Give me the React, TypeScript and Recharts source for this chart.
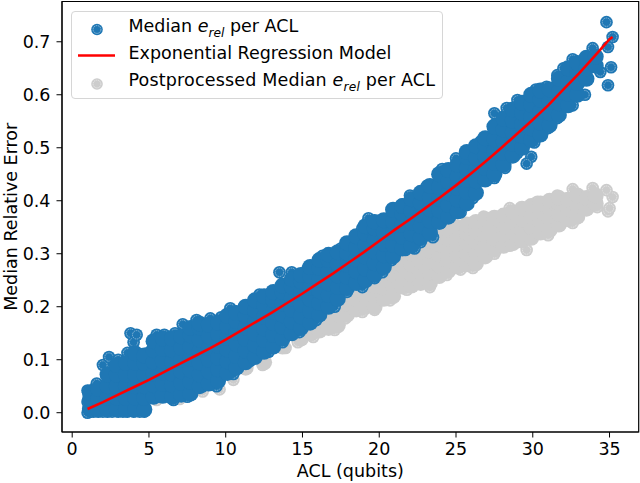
import { ScatterChart, Scatter, XAxis, YAxis, ReferenceArea } from 'recharts';

const BLUE = '#1f77b4';
const GRAY = '#cccccc';
const RED = '#ff0000';
const FONT = '"DejaVu Sans", sans-serif';
const FONT_SIZE = 17.5;

const xTicks = [0, 5, 10, 15, 20, 25, 30, 35];
const yTicks = [0, 0.1, 0.2, 0.3, 0.4, 0.5, 0.6, 0.7];

// regression curve
const fitAcl = [1, 2, 3, 4, 5, 6, 7, 8, 9, 10, 11, 12, 13, 14, 15, 16, 17, 18, 19, 20, 21, 22, 23, 24, 25, 26, 27, 28, 29, 30, 31, 32, 33, 34, 35, 35.2];
const fitError = [0.007, 0.02, 0.034, 0.048, 0.062, 0.077, 0.092, 0.107, 0.122, 0.138, 0.155, 0.172, 0.189, 0.207, 0.225, 0.244, 0.263, 0.283, 0.303, 0.324, 0.345, 0.365, 0.386, 0.407, 0.429, 0.452, 0.476, 0.501, 0.527, 0.553, 0.58, 0.61, 0.64, 0.672, 0.705, 0.709];

// blue points on the outline of the cloud
const blueEdgeAcl = [1, 1, 1, 1.4, 1.6, 2, 2.4, 3, 3.6, 3.8, 4, 4.2, 4.9, 5.5, 6, 6.7, 7.2, 8.1, 9, 9.7, 10.3, 11, 12.2, 13.5, 14.3, 15.3, 16.3, 17.5, 18.9, 19.3, 20.2, 21.5, 22, 23.1, 24.1, 25, 26.6, 27.5, 28.3, 29, 30.2, 30.9, 31.6, 32, 32.6, 33.7, 33.9, 34, 34.4, 34.8, 34.9, 34.9, 35.1, 35.2,
  33.4, 32.6, 31.6, 31, 30.1, 29.9, 29.6, 29, 28.2, 27.5, 26.1, 25.3, 24, 23.5, 22.7, 22.3, 21.7, 20.8, 20.2, 19.7, 18.9, 17.9, 17.1, 15.9, 14.8, 13.7, 12.8, 11.6, 10.5, 9.4, 8.5, 7.5, 6.6, 5.5, 4.7, 4.4, 4, 3.6, 3.3, 3, 2.6, 2.3, 2, 1.7, 1.4, 1.2];
const blueEdgeError = [0, 0.02, 0.042, 0.044, 0.055, 0.09, 0.105, 0.1, 0.113, 0.15, 0.133, 0.147, 0.112, 0.147, 0.147, 0.15, 0.167, 0.175, 0.178, 0.18, 0.197, 0.19, 0.223, 0.265, 0.265, 0.27, 0.296, 0.31, 0.348, 0.367, 0.365, 0.393, 0.41, 0.428, 0.46, 0.48, 0.512, 0.565, 0.575, 0.59, 0.61, 0.615, 0.637, 0.65, 0.667, 0.673, 0.688, 0.66, 0.643, 0.737, 0.69, 0.618, 0.652, 0.709,
  0.6, 0.58, 0.556, 0.537, 0.51, 0.483, 0.47, 0.49, 0.462, 0.443, 0.405, 0.378, 0.358, 0.331, 0.322, 0.31, 0.307, 0.288, 0.265, 0.254, 0.237, 0.228, 0.2, 0.175, 0.152, 0.133, 0.115, 0.098, 0.073, 0.05, 0.05, 0.03, 0.024, 0.03, 0.002, 0.002, 0.002, 0.002, 0.002, 0.002, 0.002, 0.002, 0.002, 0.002, 0.002, 0.002];

// blue points inside the cloud
const blueCoreAcl = [1.15, 1.7, 2.3, 2.9, 3.5, 4.1, 4.7, 5.3, 5.9, 6.5, 7.1, 7.7, 8.3, 8.9, 9.5, 10.1, 10.7, 11.3, 11.9, 12.5, 13.1, 13.7, 14.3, 14.9, 15.5, 16.1, 16.7, 17.3, 17.9, 18.5, 19.1, 19.7, 20.3, 20.9, 21.5, 22.1, 22.7, 23.3, 23.9, 24.5, 25.1, 25.7, 26.3, 26.9, 27.5, 28.1, 28.7, 29.3, 29.9, 30.5, 31.1, 31.7, 32.3, 32.9, 33.5, 34.1];
const blueCoreError = [
  [0.007, 0.025, 0.038],
  [0.006, 0.026, 0.045],
  [0.006, 0.028, 0.05, 0.072],
  [0.006, 0.028, 0.05, 0.072, 0.09],
  [0.006, 0.028, 0.05, 0.072, 0.094],
  [0.006, 0.028, 0.05, 0.072, 0.094, 0.112],
  [0.006, 0.028, 0.05, 0.072, 0.094, 0.108],
  [0.03, 0.052, 0.074, 0.096, 0.118, 0.135],
  [0.032, 0.054, 0.076, 0.098, 0.12, 0.14],
  [0.03, 0.052, 0.074, 0.096, 0.118, 0.14],
  [0.034, 0.056, 0.078, 0.1, 0.122, 0.144],
  [0.036, 0.058, 0.08, 0.102, 0.124, 0.146, 0.16],
  [0.05, 0.072, 0.094, 0.116, 0.138, 0.16, 0.168],
  [0.055, 0.078, 0.1, 0.122, 0.144, 0.166],
  [0.06, 0.082, 0.104, 0.126, 0.148, 0.17],
  [0.075, 0.097, 0.119, 0.141, 0.163, 0.183],
  [0.085, 0.107, 0.129, 0.151, 0.173, 0.188],
  [0.095, 0.117, 0.139, 0.161, 0.183, 0.2],
  [0.105, 0.127, 0.149, 0.171, 0.193, 0.212],
  [0.115, 0.137, 0.159, 0.181, 0.203, 0.22],
  [0.125, 0.147, 0.169, 0.191, 0.213, 0.228],
  [0.14, 0.162, 0.184, 0.206, 0.228, 0.24],
  [0.15, 0.172, 0.194, 0.216, 0.238, 0.252],
  [0.16, 0.182, 0.204, 0.226, 0.248, 0.26],
  [0.17, 0.192, 0.214, 0.236, 0.258, 0.275],
  [0.185, 0.207, 0.229, 0.251, 0.273, 0.288],
  [0.2, 0.222, 0.244, 0.266, 0.288, 0.298],
  [0.215, 0.237, 0.259, 0.281, 0.303],
  [0.235, 0.257, 0.279, 0.301, 0.32],
  [0.245, 0.267, 0.289, 0.311, 0.333],
  [0.25, 0.272, 0.294, 0.316, 0.338, 0.352],
  [0.26, 0.282, 0.304, 0.326, 0.348, 0.36],
  [0.275, 0.297, 0.319, 0.341, 0.363],
  [0.295, 0.317, 0.339, 0.361, 0.383],
  [0.31, 0.332, 0.354, 0.376, 0.39],
  [0.315, 0.337, 0.359, 0.381, 0.403],
  [0.33, 0.352, 0.374, 0.396, 0.415],
  [0.34, 0.362, 0.384, 0.406, 0.428],
  [0.36, 0.382, 0.404, 0.426, 0.45],
  [0.37, 0.392, 0.414, 0.436, 0.458],
  [0.38, 0.402, 0.424, 0.446, 0.468],
  [0.395, 0.417, 0.439, 0.461, 0.483, 0.492],
  [0.415, 0.437, 0.459, 0.481, 0.503],
  [0.44, 0.462, 0.484, 0.506, 0.518],
  [0.45, 0.472, 0.494, 0.516, 0.54],
  [0.468, 0.49, 0.512, 0.534, 0.555],
  [0.485, 0.507, 0.529, 0.551, 0.572],
  [0.5, 0.522, 0.544, 0.566, 0.585],
  [0.515, 0.537, 0.559, 0.581, 0.6],
  [0.525, 0.547, 0.569, 0.591, 0.608],
  [0.543, 0.565, 0.587, 0.61],
  [0.562, 0.584, 0.606, 0.63],
  [0.58, 0.602, 0.624, 0.65],
  [0.6, 0.622, 0.644, 0.66],
  [0.63, 0.65, 0.67],
  [0.655, 0.672],
];

// gray points on the outline
const grayEdgeAcl = [5.5, 7, 8.5, 9.6, 10.5, 12.4, 13.9, 14.7, 15.7, 17.1, 17.8, 18.9, 19.7, 20.7, 21.8, 23.3, 24.4, 25.3, 26.1, 27.5, 28.5, 29.6, 31, 32.6, 34.2, 34.9, 35, 35.2, 34.8, 33.9, 32.6, 31.6, 30.3, 28.5, 26.8, 24.8];
const grayEdgeError = [0.024, 0.026, 0.04, 0.044, 0.062, 0.09, 0.122, 0.133, 0.143, 0.156, 0.178, 0.19, 0.194, 0.212, 0.232, 0.237, 0.26, 0.27, 0.273, 0.3, 0.315, 0.307, 0.335, 0.358, 0.388, 0.38, 0.386, 0.407, 0.42, 0.424, 0.422, 0.41, 0.398, 0.386, 0.37, 0.354];

// gray points inside
const grayCoreAcl = [11.3, 12.5, 13.7, 14.9, 15.5, 16.1, 16.7, 17.3, 17.9, 18.5, 19.1, 19.7, 20.3, 20.9, 21.5, 22.1, 22.7, 23.3, 23.9, 24.5, 25.1, 25.7, 26.3, 26.9, 27.5, 28.1, 28.7, 29.3, 29.9, 30.5, 31.1, 31.7, 32.3, 32.9, 33.5, 34.1];
const grayCoreError = [
  [0.085, 0.105],
  [0.095, 0.115],
  [0.125, 0.145],
  [0.14, 0.16],
  [0.15, 0.17],
  [0.155, 0.175, 0.195],
  [0.16, 0.18, 0.2, 0.22],
  [0.165, 0.185, 0.205, 0.225],
  [0.185, 0.205, 0.225, 0.245],
  [0.195, 0.215, 0.235, 0.255],
  [0.2, 0.22, 0.24, 0.26],
  [0.2, 0.22, 0.24, 0.26],
  [0.215, 0.235, 0.255, 0.275],
  [0.22, 0.24, 0.26, 0.28, 0.3],
  [0.238, 0.258, 0.278, 0.298],
  [0.24, 0.26, 0.28, 0.3, 0.315],
  [0.245, 0.265, 0.285, 0.305, 0.325],
  [0.245, 0.265, 0.285, 0.305, 0.325],
  [0.258, 0.278, 0.298, 0.318, 0.335],
  [0.268, 0.288, 0.308, 0.328, 0.345],
  [0.276, 0.296, 0.316, 0.336, 0.35],
  [0.28, 0.3, 0.32, 0.34, 0.355],
  [0.282, 0.302, 0.322, 0.342, 0.36],
  [0.295, 0.315, 0.335, 0.355, 0.365],
  [0.308, 0.328, 0.348, 0.368],
  [0.315, 0.335, 0.355, 0.372],
  [0.32, 0.34, 0.36, 0.378],
  [0.325, 0.345, 0.365, 0.385],
  [0.33, 0.35, 0.37, 0.39],
  [0.34, 0.36, 0.38, 0.395],
  [0.345, 0.365, 0.385, 0.4],
  [0.355, 0.375, 0.395, 0.405],
  [0.365, 0.385, 0.402],
  [0.37, 0.39, 0.41],
  [0.385, 0.405],
  [0.395, 0.41],
];

const pairs = (xs: number[], ys: number[]) => xs.map((x, i) => ({ x, y: ys[i] }));
const columns = (xs: number[], ys: number[][]) => xs.flatMap((x, i) => ys[i].map((y) => ({ x, y })));

// circle with the pale dotted ring the markers have in the picture
const ringDot = (color: string) => (props: any) => (
  <g>
    <circle cx={props.cx} cy={props.cy} r={6.3} fill={color} />
    <circle cx={props.cx} cy={props.cy} r={4.2} fill='none' stroke='#ffffff' strokeOpacity={0.5} strokeWidth={0.8} strokeDasharray='1.6 0.7' />
  </g>
);
const solidDot = (color: string) => (props: any) => (
  <circle cx={props.cx} cy={props.cy} r={8} fill={color} />
);

const subStyle = { fontSize: 12.2, lineHeight: 0 };

const ChartLegend = () => (
  <div
    style={{
      position: 'absolute',
      left: 70.5,
      top: 10.5,
      width: 372,
      height: 88,
      boxSizing: 'border-box',
      border: '1px solid #d6d6d6',
      borderRadius: 4,
      background: 'rgba(255,255,255,0.8)',
      fontFamily: FONT,
      fontSize: FONT_SIZE,
      color: '#000',
    }}
  >
    <svg width={60} height={86} style={{ position: 'absolute', left: 0, top: 0 }}>
      <circle cx={25} cy={17.5} r={5.8} fill={BLUE} />
      <circle cx={25} cy={17.5} r={3.9} fill='none' stroke='#fff' strokeOpacity={0.6} strokeWidth={0.8} strokeDasharray='1.4 0.7' />
      <line x1={6} x2={43} y1={43.5} y2={43.5} stroke={RED} strokeWidth={2.6} />
      <circle cx={25} cy={72} r={5.8} fill={GRAY} />
      <circle cx={25} cy={72} r={3.9} fill='none' stroke='#fff' strokeOpacity={0.6} strokeWidth={0.8} strokeDasharray='1.4 0.7' />
    </svg>
    {[
      <>Median <i>e<sub style={subStyle}>rel</sub></i> per ACL</>,
      <>Exponential Regression Model</>,
      <>Postprocessed Median <i>e<sub style={subStyle}>rel</sub></i> per ACL</>,
    ].map((text, i) => (
      <div key={i} style={{ position: 'absolute', left: 57, top: 4 + i * 27.3, lineHeight: '21px', whiteSpace: 'nowrap', letterSpacing: i === 2 ? 0.17 : 0 }}>
        {text}
      </div>
    ))}
  </div>
);

export default function App() {
  return (
    <div style={{ position: 'absolute', left: 0, top: 0, width: 640, height: 483, background: '#fff' }}>
      <ScatterChart width={640} height={483} margin={{ top: 1.5, right: 1.3, bottom: 0, left: 0 }}>
        <XAxis
          type='number'
          dataKey='x'
          domain={[-0.664, 36.9]}
          ticks={xTicks}
          height={51}
          interval={0}
          tick={{ fill: '#000', fontSize: FONT_SIZE, fontFamily: FONT }}
          tickSize={5.5}
          tickMargin={5}
          stroke='#000'
          label={{ value: 'ACL (qubits)', position: 'insideBottom', offset: 6, fill: '#000', fontSize: FONT_SIZE, fontFamily: FONT }}
        />
        <YAxis
          type='number'
          dataKey='y'
          domain={[-0.0364, 0.776]}
          ticks={yTicks}
          width={62}
          interval={0}
          tickFormatter={(v: number) => v.toFixed(1)}
          tick={{ fill: '#000', fontSize: FONT_SIZE, fontFamily: FONT }}
          tickSize={5.5}
          tickMargin={6}
          stroke='#000'
          label={{ value: 'Median Relative Error', angle: -90, position: 'insideLeft', offset: 11, dy: 94, fill: '#000', fontSize: FONT_SIZE, fontFamily: FONT }}
        />
        <Scatter data={pairs(grayEdgeAcl, grayEdgeError)} shape={ringDot(GRAY)} isAnimationActive={false} />
        <Scatter data={columns(grayCoreAcl, grayCoreError)} shape={solidDot(GRAY)} isAnimationActive={false} />
        <Scatter data={pairs(blueEdgeAcl, blueEdgeError)} shape={ringDot(BLUE)} isAnimationActive={false} />
        <Scatter data={columns(blueCoreAcl, blueCoreError)} shape={solidDot(BLUE)} isAnimationActive={false} />
        <Scatter
          data={pairs(fitAcl, fitError)}
          line={{ stroke: RED, strokeWidth: 2.6 }}
          shape={() => <g />}
          isAnimationActive={false}
        />
        <ReferenceArea x1={-0.664} x2={36.9} y1={-0.0364} y2={0.776} fill='none' stroke='#000' strokeWidth={1.2} />
      </ScatterChart>
      <ChartLegend />
    </div>
  );
}
